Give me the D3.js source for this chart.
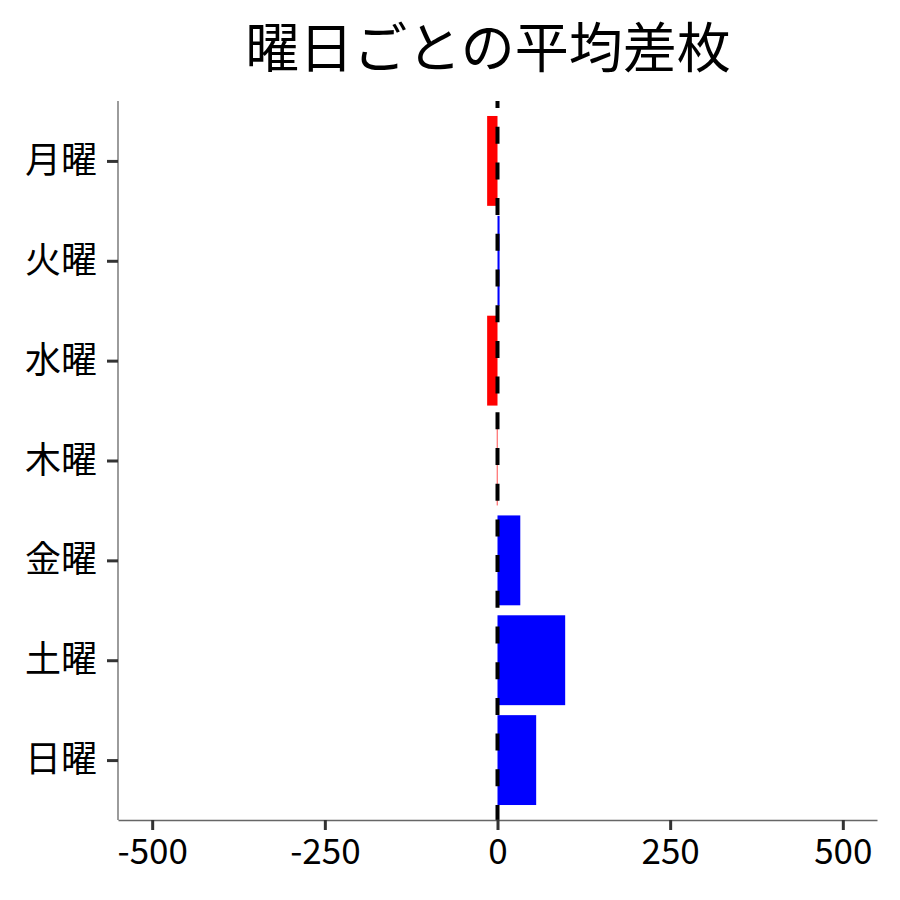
<!DOCTYPE html>
<html>
<head>
<meta charset="utf-8">
<script src="https://cdn.jsdelivr.net/npm/d3@7"></script>
<style>
  body { margin: 0; background: #fff; }
  text { font-family: "Noto Sans CJK JP", "Noto Sans", sans-serif; }
</style>
</head>
<body>
<div id="chart-area"></div>
<script>
// Data
const days = ["月曜", "火曜", "水曜", "木曜", "金曜", "土曜", "日曜"];
const avgDiff = [-15, 3, -15, -1, 33, 98, 56];
const xTicks = [-500, -250, 0, 250, 500];

const width = 900;
const height = 900;
const plot = { left: 118, right: 877, top: 101, bottom: 820 };

const svg = d3
  .select("#chart-area")
  .append("svg")
  .attr("width", width)
  .attr("height", height);

// Scales
const x = d3.scaleLinear().domain([-549.5, 549.5]).range([plot.left, plot.right]);

// discrete axis, 0.6 step of room at each end
const y = d3.scalePoint().domain(days).range([plot.top, plot.bottom]).padding(0.6);
const barH = y.step() * 0.9;

// Title
svg.append("text")
  .attr("x", 488)
  .attr("y", 44)
  .attr("text-anchor", "middle")
  .attr("dominant-baseline", "central")
  .attr("font-size", 54)
  .attr("fill", "#000")
  .text("曜日ごとの平均差枚");

// Bars
svg.append("g")
  .selectAll("rect")
  .data(days)
  .join("rect")
  .attr("x", (d, i) => x(Math.min(0, avgDiff[i])))
  .attr("y", d => y(d) - barH / 2)
  .attr("width", (d, i) => Math.abs(x(avgDiff[i]) - x(0)))
  .attr("height", barH)
  .attr("fill", (d, i) => (avgDiff[i] < 0 ? "#ff0000" : "#0000ff"));

// Zero reference line
svg.append("line")
  .attr("x1", x(0))
  .attr("x2", x(0))
  .attr("y1", plot.top)
  .attr("y2", plot.bottom)
  .attr("stroke", "#000")
  .attr("stroke-width", 4)
  .attr("stroke-dasharray", "17,18.7")
  .attr("stroke-dashoffset", 10);

// X axis
const xAxis = svg.append("g")
  .attr("transform", `translate(0,${plot.bottom})`)
  .call(d3.axisBottom(x).tickValues(xTicks).tickFormat(d => String(d))
    .tickSize(10).tickPadding(9).tickSizeOuter(0));
xAxis.select(".domain").attr("stroke", "#666").attr("stroke-width", 1.3);
xAxis.selectAll(".tick line").attr("stroke", "#333").attr("stroke-width", 3);
xAxis.selectAll(".tick text")
  .attr("font-size", 35)
  .attr("fill", "#000")
  .attr("font-family", "Noto Sans CJK JP");

// Y axis
const yAxis = svg.append("g")
  .attr("transform", `translate(${plot.left},0)`)
  .call(d3.axisLeft(y).tickSize(11).tickPadding(10).tickSizeOuter(0));
yAxis.select(".domain")
  .attr("d", `M0,${plot.top}V${plot.bottom}`)
  .attr("stroke", "#666")
  .attr("stroke-width", 1.3);
yAxis.selectAll(".tick line").attr("stroke", "#333").attr("stroke-width", 3);
yAxis.selectAll(".tick text")
  .attr("font-size", 36)
  .attr("fill", "#000")
  .attr("font-family", "Noto Sans CJK JP");
</script>
</body>
</html>
